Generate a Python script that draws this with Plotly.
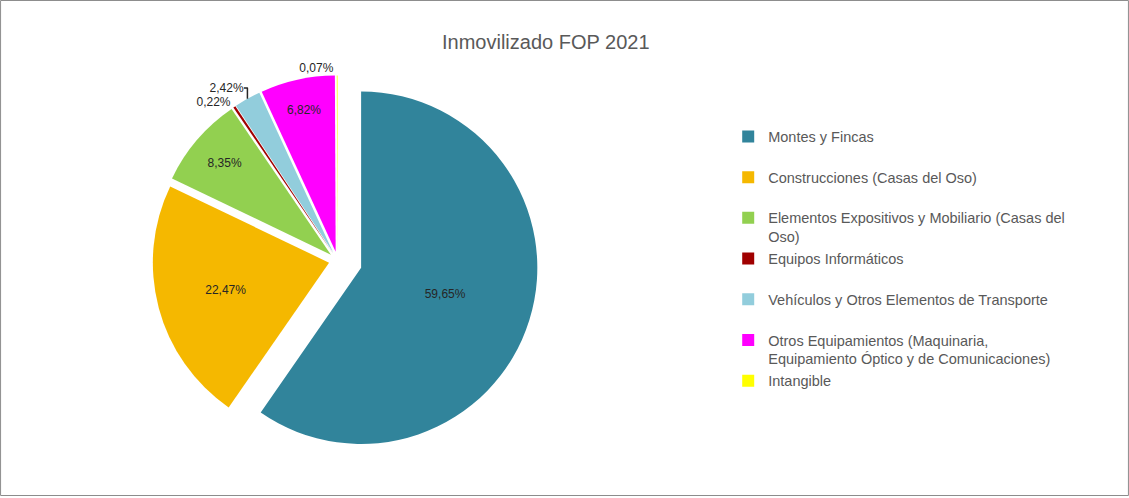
import plotly.graph_objects as go

categories = [
    "Montes y Fincas",
    "Construcciones (Casas del Oso)",
    "Elementos Expositivos y Mobiliario (Casas del<br>Oso)",
    "Equipos Informáticos",
    "Vehículos y Otros Elementos de Transporte",
    "Otros Equipamientos (Maquinaria,<br>Equipamiento Óptico y de Comunicaciones)",
    "Intangible",
]
values = [59.65, 22.47, 8.35, 0.22, 2.42, 6.82, 0.07]
colors = ["#31849B", "#F5B800", "#92D050", "#A00000", "#92CDDC", "#FF00FF", "#FFFF00"]
text_positions = ["inside", "inside", "inside", "outside", "outside", "inside", "outside"]
pulls = [0.14, 0.05, 0.05, 0.05, 0.05, 0.05, 0.05]

# single-line legend entries get an empty second line so spacing is uniform
legend_labels = [c if "<br>" in c else c + "<br> " for c in categories]

fig = go.Figure(
    go.Pie(
        labels=legend_labels,
        values=values,
        sort=False,
        direction="clockwise",
        rotation=0,
        pull=pulls,
        marker=dict(colors=colors, line=dict(width=0)),
        texttemplate="%{value:.2f}%",
        textposition=text_positions,
        insidetextorientation="horizontal",
        textfont=dict(family="Liberation Sans, Arial, sans-serif", size=12, color="#262626"),
        outsidetextfont=dict(family="Liberation Sans, Arial, sans-serif", size=12, color="#262626"),
        hoverinfo="label+percent",
        domain=dict(x=[0.115, 0.483], y=[0.07, 0.88]),
    )
)

fig.update_layout(
    width=1129,
    height=498,
    separators=",.",
    paper_bgcolor="white",
    plot_bgcolor="white",
    margin=dict(l=0, r=0, t=0, b=0),
    font=dict(family="Liberation Sans, Arial, sans-serif", color="#595959"),
    annotations=[
        dict(
            text="Inmovilizado FOP 2021",
            x=0.4836,
            y=1 - 42 / 498,
            xref="paper",
            yref="paper",
            xanchor="center",
            yanchor="middle",
            showarrow=False,
            font=dict(size=20, color="#595959"),
        )
    ],
    legend=dict(
        x=0.645,
        xanchor="left",
        y=1 - 121 / 498,
        yanchor="top",
        valign="top",
        font=dict(size=14.5, color="#595959"),
        bgcolor="rgba(0,0,0,0)",
        traceorder="normal",
    ),
    shapes=[
        dict(
            type="rect",
            xref="paper",
            yref="paper",
            x0=0.0005,
            x1=0.9995,
            y0=0.001,
            y1=0.999,
            line=dict(color="#8C8C8C", width=1),
            fillcolor="rgba(0,0,0,0)",
        )
    ],
)

fig.write_html(
    "out.html",
    config={"displayModeBar": False},
    post_script="document.body.style.margin='0';document.body.style.overflow='hidden';",
)
